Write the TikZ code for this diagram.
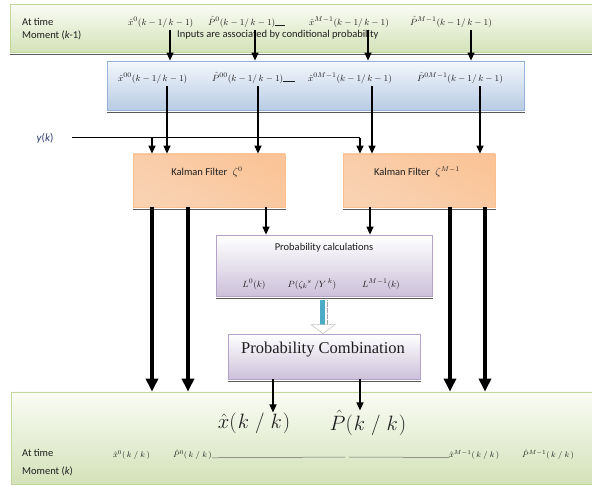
\documentclass[tikz,border=0pt]{standalone}
\usepackage{fontspec}
\setmainfont{Carlito}
\newfontfamily\serifp{Liberation Serif}
\usetikzlibrary{arrows.meta,calc}
\definecolor{gborder}{RGB}{195,214,155}
\definecolor{gtop}{RGB}{250,252,245}
\definecolor{gbot}{RGB}{212,226,185}
\definecolor{bborder}{RGB}{149,179,215}
\definecolor{btop}{RGB}{244,247,252}
\definecolor{bbot}{RGB}{184,204,228}
\definecolor{oborder}{RGB}{250,192,144}
\definecolor{otop}{RGB}{250,196,152}
\definecolor{omid}{RGB}{253,238,227}
\definecolor{obot}{RGB}{249,210,178}
\definecolor{pborder}{RGB}{179,162,199}
\definecolor{pbot}{RGB}{204,193,218}
\definecolor{navy}{RGB}{45,60,110}
\definecolor{txt}{RGB}{30,30,30}
\definecolor{cyanarrow}{RGB}{75,172,198}
\tikzset{
  box/.style={draw, line width=0.8pt, inner sep=0pt, anchor=center},
  greenbox/.style={box, draw=gborder, top color=gtop, bottom color=gbot},
  bluebox/.style={box, draw=bborder, top color=btop, bottom color=bbot},
  kbox/.style={box, draw=oborder, top color=otop, middle color=omid, bottom color=obot, shading angle=-30},
  pbox/.style={box, draw=pborder, top color=white, bottom color=pbot},
  shadowline/.style={line width=0.8pt, gray!70!black, dash pattern=on 0.4pt off 0.5pt},
  lbl/.style={font=\fontsize{10.5}{12}\selectfont, text=txt, inner sep=0pt},
  mth/.style={font=\fontsize{9.5}{10}\selectfont, text=txt, inner sep=0pt, anchor=west},
  smth/.style={font=\fontsize{8.5}{10}\selectfont, text=txt, inner sep=0pt, anchor=west},
  bigm/.style={font=\fontsize{20}{22}\selectfont, text=txt, inner sep=0pt},
  thinarrow/.style={line width=1.3pt, -{Triangle[width=7pt,length=8pt]}},
  thickarrow/.style={line width=4pt, -{Triangle[width=12pt,length=13pt]}},
}
\begin{document}
\begin{tikzpicture}[x=1pt,y=-1pt]
\useasboundingbox (0,0) rectangle (592,486);
% boxes
\node[greenbox, minimum width=586pt, minimum height=48pt] (topbox) at (303,28) {};
\node[bluebox, minimum width=417pt, minimum height=49pt] (blue) at (315.5,85.5) {};
\node[kbox, minimum width=152pt, minimum height=53pt] (kf0) at (209,180.5) {};
\node[kbox, minimum width=152pt, minimum height=53pt] (kfM) at (419,180.5) {};
\node[pbox, minimum width=216pt, minimum height=61pt] (pcalc) at (324,265.5) {};
\node[pbox, minimum width=192pt, minimum height=45pt] (pcomb) at (324,356.5) {};
\node[greenbox, minimum width=585pt, minimum height=92pt] (botbox) at (303.5,438) {};
\foreach \b in {topbox,blue,kf0,kfM,pcalc,pcomb,botbox}
  \draw[shadowline] ([yshift=-1.6pt]\b.south west) -- ([yshift=-1.6pt]\b.south east);

% top box texts
\node[lbl, anchor=west] (at1) at (22,22) {At time};
\node[lbl, anchor=west] (mo1) at (22,35) {Moment (\textit{k}-1)};
\node[mth] (tx0) at (128,22) {$\hat{x}^{0}(k-1/\,k-1)$};
\node[mth] (tp0) at (208,22) {$\hat{P}^{0}(k-1/\,k-1)$\rule[-0.3pt]{10pt}{0.4pt}};
\node[mth] (txM) at (309,22) {$\hat{x}^{M-1}(k-1/\,k-1)$};
\node[mth] (tpM) at (410,22) {$\hat{P}^{M-1}(k-1/\,k-1)$};
\node[lbl, anchor=west] (inp) at (177,35) {Inputs are associated by conditional probability};

% blue box texts
\node[mth] (bx0) at (118,78) {$\hat{x}^{00}(k-1/\,k-1)$};
\node[mth] (bp0) at (212,78) {$\hat{P}^{00}(k-1/\,k-1)$\rule[-0.3pt]{12pt}{0.4pt}};
\node[mth] (bxM) at (308,78) {$\hat{x}^{0M-1}(k-1/\,k-1)$};
\node[mth] (bpM) at (417,78) {$\hat{P}^{0M-1}(k-1/\,k-1)$};

% Kalman texts
\node[lbl] (kt0) at (207,172) {Kalman Filter\enspace$\zeta^{0}$};
\node[lbl] (ktM) at (417,172) {Kalman Filter\enspace$\zeta^{M-1}$};

% probability calculations
\node[lbl] (pct) at (324,248) {Probability calculations};
\node[mth, anchor=center] (l0) at (254,284) {$L^{0}(k)$};
\node[mth, anchor=center] (pz) at (312,284) {$P(\zeta_k{}^{s}\;/Y^{\,k})$};
\node[mth, anchor=center] (lM) at (381,284) {$L^{M-1}(k)$};

% probability combination
\node[font=\serifp\fontsize{16.5}{18}\selectfont, text=txt, inner sep=0pt] (pct2) at (323,350) {Probability Combination};

% bottom box texts
\node[bigm] (xh) at (254,423) {$\hat{x}(\hspace{1pt}k\hspace{6pt}/\hspace{6pt}k\hspace{1pt})$};
\node[bigm] (ph) at (368,423) {$\hat{P}(\hspace{1pt}k\hspace{6pt}/\hspace{6pt}k\hspace{1pt})$};
\node[lbl, anchor=west] (at2) at (22,453) {At time};
\node[lbl, anchor=west] (mo2) at (22,471) {Moment (\textit{k})};
\node[smth] (sx0) at (113,455) {$\hat{x}^{0}(\,k\;/\;k\,)$};
\node[smth] (sp0) at (173,455) {$\hat{P}^{0}(\,k\;/\;k\,)$};
\node[smth] (sxM) at (449,455) {$\hat{x}^{M-1}(\,k\;/\;k\,)$};
\node[smth] (spM) at (522,455) {$\hat{P}^{M-1}(\,k\;/\;k\,)$};
\coordinate (gap1) at (345,457);
\coordinate (gap2) at (349,457);
\draw[line width=0.5pt, gray!80!black] (sp0.base east) -- (gap1);
\draw[line width=0.5pt, gray!80!black] (gap2) -- (sxM.base west);

% y(k)
\node[font=\fontsize{11}{12}\selectfont, text=navy, inner sep=0pt] (yk) at (45,138) {\textit{y}(\textit{k})};
\coordinate (yline) at (72,138);
\coordinate (ybr0) at (152,138);
\coordinate (ybrM) at (360,138);
\draw[line width=1pt] (yline) -- (ybrM);
\draw[thinarrow] (ybr0) -- (ybr0 |- kf0.north);
\draw[thinarrow] (ybrM) -- (ybrM |- kfM.north);

% top arrows
\foreach \x in {170,255,368,471}
  \draw[thinarrow] (\x,30) -- ({\x},0 |- blue.north);
% blue arrows
\foreach \x in {167,258}
  \draw[thinarrow] (\x,86) -- ({\x},0 |- kf0.north);
\foreach \x in {372,480}
  \draw[thinarrow] (\x,86) -- ({\x},0 |- kfM.north);

% Kalman outputs
\foreach \x in {152,188}
  \draw[thickarrow] (\x,207) -- ({\x},0 |- botbox.north);
\foreach \x in {450,485}
  \draw[thickarrow] (\x,207) -- ({\x},0 |- botbox.north);
\coordinate (k0o) at (266,207);
\coordinate (kMo) at (370,207);
\draw[thinarrow] (k0o) -- (k0o |- pcalc.north);
\draw[thinarrow] (kMo) -- (kMo |- pcalc.north);

% block arrow between pcalc and pcomb
\fill[cyanarrow] ([xshift=-4pt,yshift=-4pt]pcalc.south) rectangle ([xshift=1pt,yshift=9pt]pcomb.north);
\draw[gray!70, dash pattern=on 0.6pt off 0.6pt, line width=0.6pt] ([xshift=3pt,yshift=-4pt]pcalc.south) -- ([xshift=3pt,yshift=9pt]pcomb.north);
\filldraw[fill=white, draw=gray!70, line width=0.6pt, dash pattern=on 0.6pt off 0.6pt]
  ([xshift=-13pt,yshift=9pt]pcomb.north) -- ([xshift=11pt,yshift=9pt]pcomb.north) -- ([xshift=-1pt]pcomb.north) -- cycle;

% pcomb outputs
\coordinate (c1) at (273,379);
\coordinate (c2) at (360,379);
\draw[thinarrow] (c1) -- (c1 |- xh.north);
\draw[thinarrow] (c2) -- (c2 |- ph.north);
\end{tikzpicture}
\end{document}
